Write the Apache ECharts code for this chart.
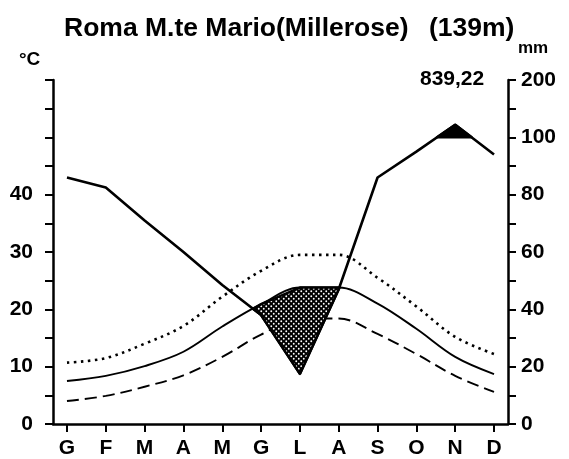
<!DOCTYPE html>
<html>
<head>
<meta charset="utf-8">
<script src="https://cdn.jsdelivr.net/npm/echarts@6/dist/echarts.min.js"></script>
<style>
  html, body { margin: 0; padding: 0; background: #fff; }
  #chart { width: 569px; height: 459px; }
</style>
</head>
<body>
<div id="chart"></div>
<script>
// dati del diagramma (mesi in italiano)
const months = ['G', 'F', 'M', 'A', 'M', 'G', 'L', 'A', 'S', 'O', 'N', 'D'];
const precipMm = [86, 82.5, 71, 60, 48.5, 38, 17.5, 47, 86, 95, 122, 94];
const tempMean = [7.5, 8.4, 10.1, 12.6, 17.0, 20.9, 23.8, 23.8, 21.0, 16.6, 11.7, 8.7];
const tempMax = [10.7, 11.5, 14.0, 17.1, 22.2, 26.7, 29.5, 29.5, 25.5, 20.5, 15.2, 12.2];
const tempMin = [4.0, 4.9, 6.5, 8.5, 11.7, 15.6, 18.3, 18.4, 15.7, 12.2, 8.4, 5.6];
const leftTicks = [0, 10, 20, 30, 40];
const rightTicks = [0, 20, 40, 60, 80, 100, 200];
const totalPrecip = '839,22';

// scala Bagnouls-Gaussen: 2 mm = 1 °C fino a 100 mm, poi ridotta
function mmToScale(mm) {
    return mm <= 100 ? mm / 2 : 50 + (mm - 100) / 10;
}

const precipScaled = precipMm.map(mmToScale);
const monthIdx = months.map((m, i) => i);

// regioni dove la curva a sta sotto la curva b
function regionsBelow(a, b) {
    const regions = [];
    let cur = null;
    for (let i = 0; i < a.length; i++) {
        const d = a[i] - b[i];
        if (d < 0) {
            if (!cur) cur = { top: [], bottom: [] };
            cur.top.push([i, b[i]]);
            cur.bottom.push([i, a[i]]);
        }
        if (i < a.length - 1) {
            const d2 = a[i + 1] - b[i + 1];
            if ((d < 0) !== (d2 < 0)) {
                const t = d / (d - d2);
                const x = i + t;
                const y = b[i] + (b[i + 1] - b[i]) * t;
                if (!cur) {
                    cur = { top: [[x, y]], bottom: [[x, y]] };
                } else {
                    cur.top.push([x, y]);
                    cur.bottom.push([x, y]);
                    regions.push(cur.top.concat(cur.bottom.reverse()));
                    cur = null;
                }
            }
        }
    }
    if (cur) regions.push(cur.top.concat(cur.bottom.reverse()));
    return regions;
}

const dryRegions = regionsBelow(precipScaled, tempMean);
const wetRegions = regionsBelow(precipScaled.map(v => 100 - v), precipScaled.map(() => 50))
    .map(poly => poly.map(p => [p[0], 100 - p[1]]));

function makeDots() {
    const c = document.createElement('canvas');
    c.width = 5; c.height = 5;
    const g = c.getContext('2d');
    g.fillStyle = '#000';
    g.fillRect(0, 0, 5, 5);
    g.fillStyle = '#fff';
    [[1.25, 1.25], [3.75, 3.75]].forEach(p => {
        g.beginPath();
        g.arc(p[0], p[1], 0.95, 0, Math.PI * 2);
        g.fill();
    });
    return c;
}

function polySeries(regions, fill) {
    return {
        type: 'custom',
        z: 5,
        silent: true,
        data: regions.map((r, i) => [r[0][0], r[0][1], i]),
        renderItem: function (params, api) {
            const pts = regions[params.dataIndex].map(p => api.coord(p));
            return {
                type: 'polygon',
                shape: { points: pts },
                style: { fill: fill, stroke: '#000', lineWidth: 2.5, lineJoin: 'round' }
            };
        }
    };
}

const chart = echarts.init(document.getElementById('chart'));
const boldFont = 'Liberation Sans';

function label(text, left, top, size) {
    return {
        type: 'text', left: left, top: top,
        style: { text: text, fontFamily: boldFont, fontWeight: 'bold', fontSize: size, fill: '#000' }
    };
}

const yBase = {
    type: 'value',
    min: 0,
    max: 60,
    interval: 5,
    splitLine: { show: false },
    axisLine: { show: true, onZero: false, lineStyle: { color: '#000', width: 2.5 } },
    axisTick: { show: true, length: 8, lineStyle: { color: '#000', width: 2 } }
};

chart.setOption({
    animation: false,
    backgroundColor: '#fff',
    grid: { left: 53, right: 61, top: 80, bottom: 34 },
    graphic: [
        label('Roma M.te Mario(Millerose)', 64, 15, 26.5),
        label('(139m)', 429, 15, 26.5),
        label('mm', 518, 40, 17),
        label('°C', 19, 50, 19),
        label(totalPrecip, 420, 69, 21)
    ],
    xAxis: {
        type: 'value',
        min: -0.36,
        max: 11.36,
        splitLine: { show: false },
        axisLine: { show: true, onZero: false, lineStyle: { color: '#000', width: 2.5 } },
        axisTick: { show: true, length: 8, customValues: monthIdx, lineStyle: { color: '#000', width: 2 } },
        axisLabel: {
            customValues: monthIdx,
            margin: 14,
            formatter: v => months[Math.round(v)],
            fontFamily: boldFont, fontWeight: 'bold', fontSize: 21, color: '#000'
        }
    },
    yAxis: [
        Object.assign({}, yBase, {
            position: 'left',
            axisLabel: {
                margin: 20,
                formatter: v => leftTicks.includes(v) ? String(v) : '',
                fontFamily: boldFont, fontWeight: 'bold', fontSize: 21, color: '#000'
            }
        }),
        Object.assign({}, yBase, {
            position: 'right',
            axisLabel: {
                margin: 13,
                formatter: v => {
                    const mm = rightTicks.find(t => Math.abs(mmToScale(t) - v) < 1e-6);
                    return mm === undefined ? '' : String(mm);
                },
                fontFamily: boldFont, fontWeight: 'bold', fontSize: 21, color: '#000'
            }
        })
    ],
    series: [
        {
            name: 'T min',
            type: 'line',
            data: tempMin.map((v, i) => [i, v]),
            smooth: 0.35,
            symbol: 'none',
            lineStyle: { color: '#000', width: 1.9, type: [12, 6] }
        },
        {
            name: 'T max',
            type: 'line',
            data: tempMax.map((v, i) => [i, v]),
            smooth: 0.35,
            symbol: 'none',
            lineStyle: { color: '#000', width: 2.6, type: [2.5, 4.5] }
        },
        {
            name: 'T media',
            type: 'line',
            data: tempMean.map((v, i) => [i, v]),
            smooth: 0.35,
            symbol: 'none',
            lineStyle: { color: '#000', width: 1.9 }
        },
        {
            name: 'Precipitazioni',
            type: 'line',
            data: precipScaled.map((v, i) => [i, v]),
            symbol: 'none',
            lineStyle: { color: '#000', width: 2.6 }
        },
        polySeries(dryRegions, { image: makeDots(), repeat: 'repeat' }),
        polySeries(wetRegions, '#000')
    ]
});
</script>
</body>
</html>
